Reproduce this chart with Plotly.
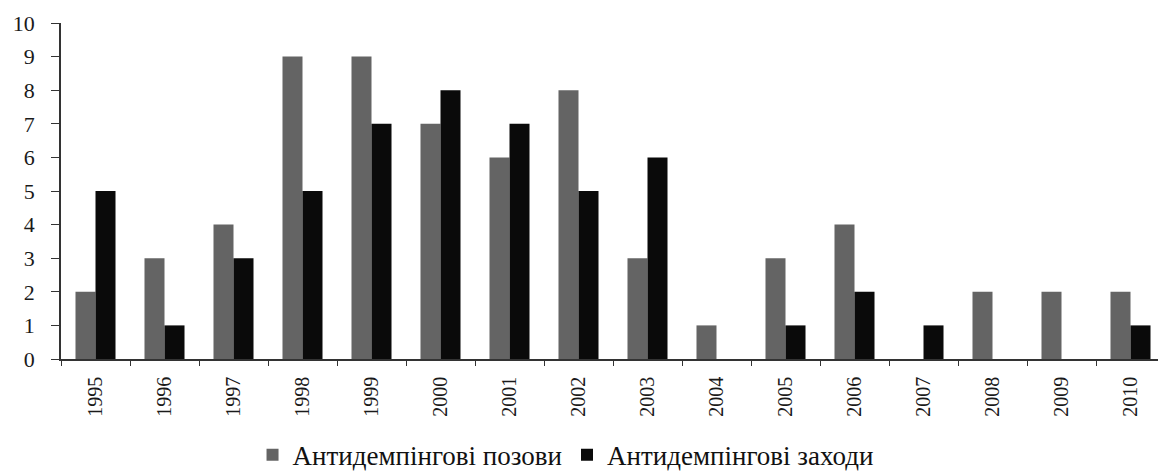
import plotly.graph_objects as go

years = ["1995", "1996", "1997", "1998", "1999", "2000", "2001", "2002",
         "2003", "2004", "2005", "2006", "2007", "2008", "2009", "2010"]
suits = [2, 3, 4, 9, 9, 7, 6, 8, 3, 1, 3, 4, 0, 2, 2, 2]
measures = [5, 1, 3, 5, 7, 8, 7, 5, 6, 0, 1, 2, 1, 0, 0, 1]
y_ticks = list(range(0, 11))

FONT = "Liberation Serif, Times New Roman, serif"

fig = go.Figure()
fig.add_trace(go.Bar(x=years, y=suits, name="Антидемпінгові позови",
                     marker=dict(color="#646464", line=dict(width=0))))
fig.add_trace(go.Bar(x=years, y=measures, name="Антидемпінгові заходи",
                     marker=dict(color="#0a0a0a", line=dict(width=0))))

# the page body has an 8px default margin, so the figure is sized to fit
fig.update_layout(
    width=1158, height=465,
    margin=dict(l=53, r=1, t=15, b=114, autoexpand=False),
    paper_bgcolor="white", plot_bgcolor="white",
    barmode="group", bargap=0.42, bargroupgap=0,
    font=dict(family=FONT, color="#1a1a1a"),
    showlegend=True,
    legend=dict(orientation="h", x=0.457, xanchor="center", y=-0.286, yanchor="middle",
                font=dict(family=FONT, size=27, color="#111111"),
                itemwidth=30, traceorder="normal"),
    xaxis=dict(type="category", showline=True, linecolor="#333333", linewidth=1.5,
               ticks="outside", tickson="boundaries", ticklen=5, tickcolor="#333333",
               tickangle=-90, tickfont=dict(family=FONT, size=20, color="#1a1a1a"),
               ticklabelstandoff=8, showgrid=False, automargin=False),
    yaxis=dict(range=[0, 10], tickvals=y_ticks, showline=True, linecolor="#333333",
               linewidth=1.5, ticks="outside", ticklen=8, tickcolor="#333333",
               tickfont=dict(family=FONT, size=22, color="#1a1a1a"),
               showgrid=False, zeroline=False, ticklabelstandoff=12, automargin=False),
)

fig.write_html("out.html")
